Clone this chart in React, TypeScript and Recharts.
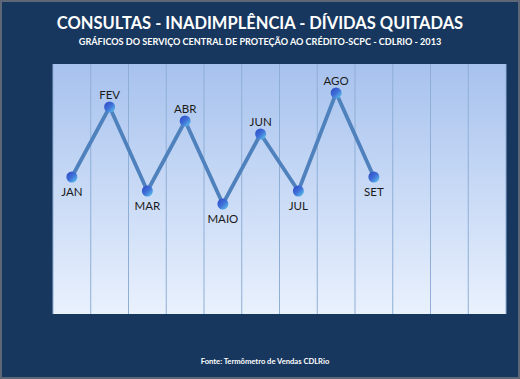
import React from 'react';
import {
  ComposedChart,
  Line,
  XAxis,
  YAxis,
  CartesianGrid,
  LabelList,
} from 'recharts';

const MONTHS = ['JAN', 'FEV', 'MAR', 'ABR', 'MAIO', 'JUN', 'JUL', 'AGO', 'SET', 'OUT', 'NOV', 'DEZ'];
// index readings (no y axis shown in the original)
const VALUES: (number | null)[] = [54.8, 82.8, 49.2, 77.2, 44, 72, 49.2, 88.4, 54.8, null, null, null];
// which labels sit above the point
const LABEL_UP = [false, true, false, true, false, true, false, true, false];

const data = MONTHS.map((m, i) => ({ name: m, value: VALUES[i] }));

const FONT = 'Lato, "Open Sans", sans-serif';

const Dot = (props: any) => {
  const { cx, cy, index } = props;
  if (cx == null || cy == null || VALUES[index] == null) return null;
  return <circle key={index} cx={cx} cy={cy} r={5.5} fill="url(#dotGrad)" />;
};

const MonthLabel = (props: any) => {
  const { x, y, index } = props;
  if (x == null || y == null || VALUES[index] == null) return null;
  const up = LABEL_UP[index];
  return (
    <text
      x={x}
      y={up ? y - 8 : y + 19}
      textAnchor="middle"
      fontSize={11.5}
      fontFamily={FONT}
      fill="#1a1a1a"
    >
      {MONTHS[index]}
    </text>
  );
};

const gridLines = ({ offset }: any) => {
  const cols = MONTHS.length;
  const out: number[] = [];
  for (let i = 0; i <= cols; i++) out.push(offset.left + (offset.width * i) / cols);
  return out;
};

export default function App() {
  return (
    <div
      style={{
        position: 'relative',
        width: 520,
        height: 379,
        boxSizing: 'border-box',
        background: '#17375e',
        border: '2px solid #5d6776',
        fontFamily: FONT,
        overflow: 'hidden',
      }}
    >
      <style>{`body{margin:0}`}</style>
      <div
        style={{
          position: 'absolute',
          top: 11,
          left: 0,
          width: 516,
          textAlign: 'center',
          color: '#fff',
          fontWeight: 700,
          fontSize: 16.5,
        }}
      >
        CONSULTAS - INADIMPLÊNCIA - DÍVIDAS QUITADAS
      </div>
      <div
        style={{
          position: 'absolute',
          top: 34,
          left: 0,
          width: 516,
          textAlign: 'center',
          color: '#fff',
          fontWeight: 700,
          fontSize: 9.1,
        }}
      >
        GRÁFICOS DO SERVIÇO CENTRAL DE PROTEÇÃO AO CRÉDITO-SCPC - CDLRIO - 2013
      </div>
      <div style={{ position: 'absolute', top: -2, left: -2 }}>
        <ComposedChart
          width={520}
          height={379}
          data={data}
          margin={{ top: 64, right: 14, bottom: 65, left: 53 }}
        >
          <defs>
            <linearGradient id="bgGrad" x1="0" y1="0" x2="0" y2="1">
              <stop offset="0%" stopColor="#a7c2ee" />
              <stop offset="100%" stopColor="#e9f1fd" />
            </linearGradient>
            <linearGradient id="dotGrad" x1="0" y1="0" x2="1" y2="1">
              <stop offset="0%" stopColor="#2b46c4" />
              <stop offset="50%" stopColor="#3f6fd8" />
              <stop offset="100%" stopColor="#5fd0ee" />
            </linearGradient>
          </defs>
          <CartesianGrid
            horizontal={false}
            fill="url(#bgGrad)"
            fillOpacity={1}
            stroke="#8eaed6"
            strokeWidth={1}
            verticalCoordinatesGenerator={gridLines}
          />
          <XAxis dataKey="name" scale="band" hide />
          <YAxis domain={[0, 100]} hide />
          <Line
            type="linear"
            dataKey="value"
            stroke="#4f81bd"
            strokeWidth={3.8}
            dot={<Dot />}
            activeDot={false}
            isAnimationActive={false}
          >
            <LabelList dataKey="value" content={<MonthLabel />} />
          </Line>
        </ComposedChart>
      </div>
      <div
        style={{
          position: 'absolute',
          top: 354,
          left: 0,
          width: 526,
          textAlign: 'center',
          color: '#fff',
          fontWeight: 700,
          fontSize: 7.6,
        }}
      >
        Fonte: Termômetro de Vendas CDLRio
      </div>
    </div>
  );
}
